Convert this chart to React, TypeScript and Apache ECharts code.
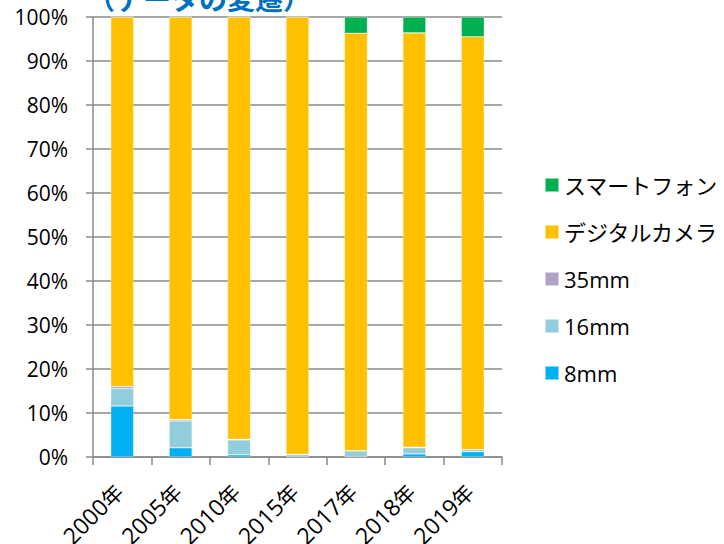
import React, { useEffect, useRef } from "react";
import * as echarts from "echarts";

const categories = ["2000年", "2005年", "2010年", "2015年", "2017年", "2018年", "2019年"];
const mm8 = [11.6, 2.1, 0.5, 0.1, 0.1, 0.7, 1.2];
const mm16 = [3.9, 6.1, 3.4, 0.5, 1.3, 1.4, 0.5];
const mm35 = [0.5, 0.3, 0.1, 0, 0, 0.1, 0];
const digital = [84.0, 91.5, 96.0, 99.4, 94.9, 94.2, 93.8];
const smartphone = [0, 0, 0, 0, 3.7, 3.6, 4.5];
const yTicks = { min: 0, max: 100, interval: 10 };
const titleText = "（データの変遷）";

const FONT = "'Open Sans', 'Noto Sans CJK JP', sans-serif";
const GRID_COLOR = "#8a8a8a";

export default function App() {
  const ref = useRef<HTMLDivElement>(null);
  useEffect(() => {
    if (!ref.current) return;
    const chart = echarts.init(ref.current, undefined, { renderer: "svg" });
    const mk = (name: string, data: number[], color: string) => ({
      name,
      type: "bar",
      stack: "total",
      data,
      barWidth: 23,
      itemStyle: { color, borderColor: "rgba(255,255,255,0.5)", borderWidth: 0.6 },
    });
    chart.setOption({
      animation: false,
      grid: {
        left: 93,
        right: 222,
        top: 17,
        bottom: 87,
        containLabel: false,
        outerBoundsMode: "none",
      },
      graphic: [
        {
          type: "text",
          left: 87,
          top: -16,
          style: {
            text: titleText,
            fontSize: 28,
            fontWeight: "bold",
            fill: "#0070C0",
            fontFamily: "'Noto Sans CJK JP', sans-serif",
          },
        },
      ],
      legend: {
        orient: "vertical",
        left: 544,
        top: 174,
        padding: 0,
        itemWidth: 14,
        itemHeight: 14,
        itemGap: 25,
        icon: "rect",
        data: ["スマートフォン", "デジタルカメラ", "35mm", "16mm", "8mm"],
        textStyle: { fontSize: 22, color: "#000", fontFamily: FONT },
      },
      xAxis: {
        type: "category",
        data: categories,
        axisLine: { show: true, lineStyle: { color: GRID_COLOR, width: 1.5 } },
        axisTick: { show: true, length: 8, lineStyle: { color: GRID_COLOR, width: 1.5 } },
        axisLabel: {
          rotate: 45,
          color: "#000",
          fontFamily: FONT,
          margin: 27,
          interval: 0,
          padding: [0, 5, 0, 0],
          formatter: (v: string) => `{d|${v.slice(0, -1)}}{k|${v.slice(-1)}}`,
          rich: {
            d: { fontSize: 23, fontFamily: FONT, color: "#000" },
            k: { fontSize: 21, fontFamily: "'Noto Sans CJK JP', sans-serif", color: "#000" },
          },
        },
      },
      yAxis: {
        type: "value",
        min: yTicks.min,
        max: yTicks.max,
        interval: yTicks.interval,
        axisLine: { show: true, lineStyle: { color: GRID_COLOR, width: 1.5 } },
        axisTick: { show: true, length: 7, lineStyle: { color: GRID_COLOR, width: 1.5 } },
        splitLine: { show: true, lineStyle: { color: GRID_COLOR, width: 1.5 } },
        axisLabel: {
          formatter: "{value}%",
          fontSize: 21,
          color: "#000",
          fontFamily: FONT,
          margin: 25,
        },
      },
      series: [
        mk("8mm", mm8, "#00B0F0"),
        mk("16mm", mm16, "#92CDDC"),
        mk("35mm", mm35, "#B2A2C7"),
        mk("デジタルカメラ", digital, "#FFC000"),
        mk("スマートフォン", smartphone, "#00B050"),
      ],
    });
    return () => chart.dispose();
  }, []);
  return (
    <div
      ref={ref}
      style={{ position: "absolute", left: 0, top: 0, width: 724, height: 544 }}
    />
  );
}
